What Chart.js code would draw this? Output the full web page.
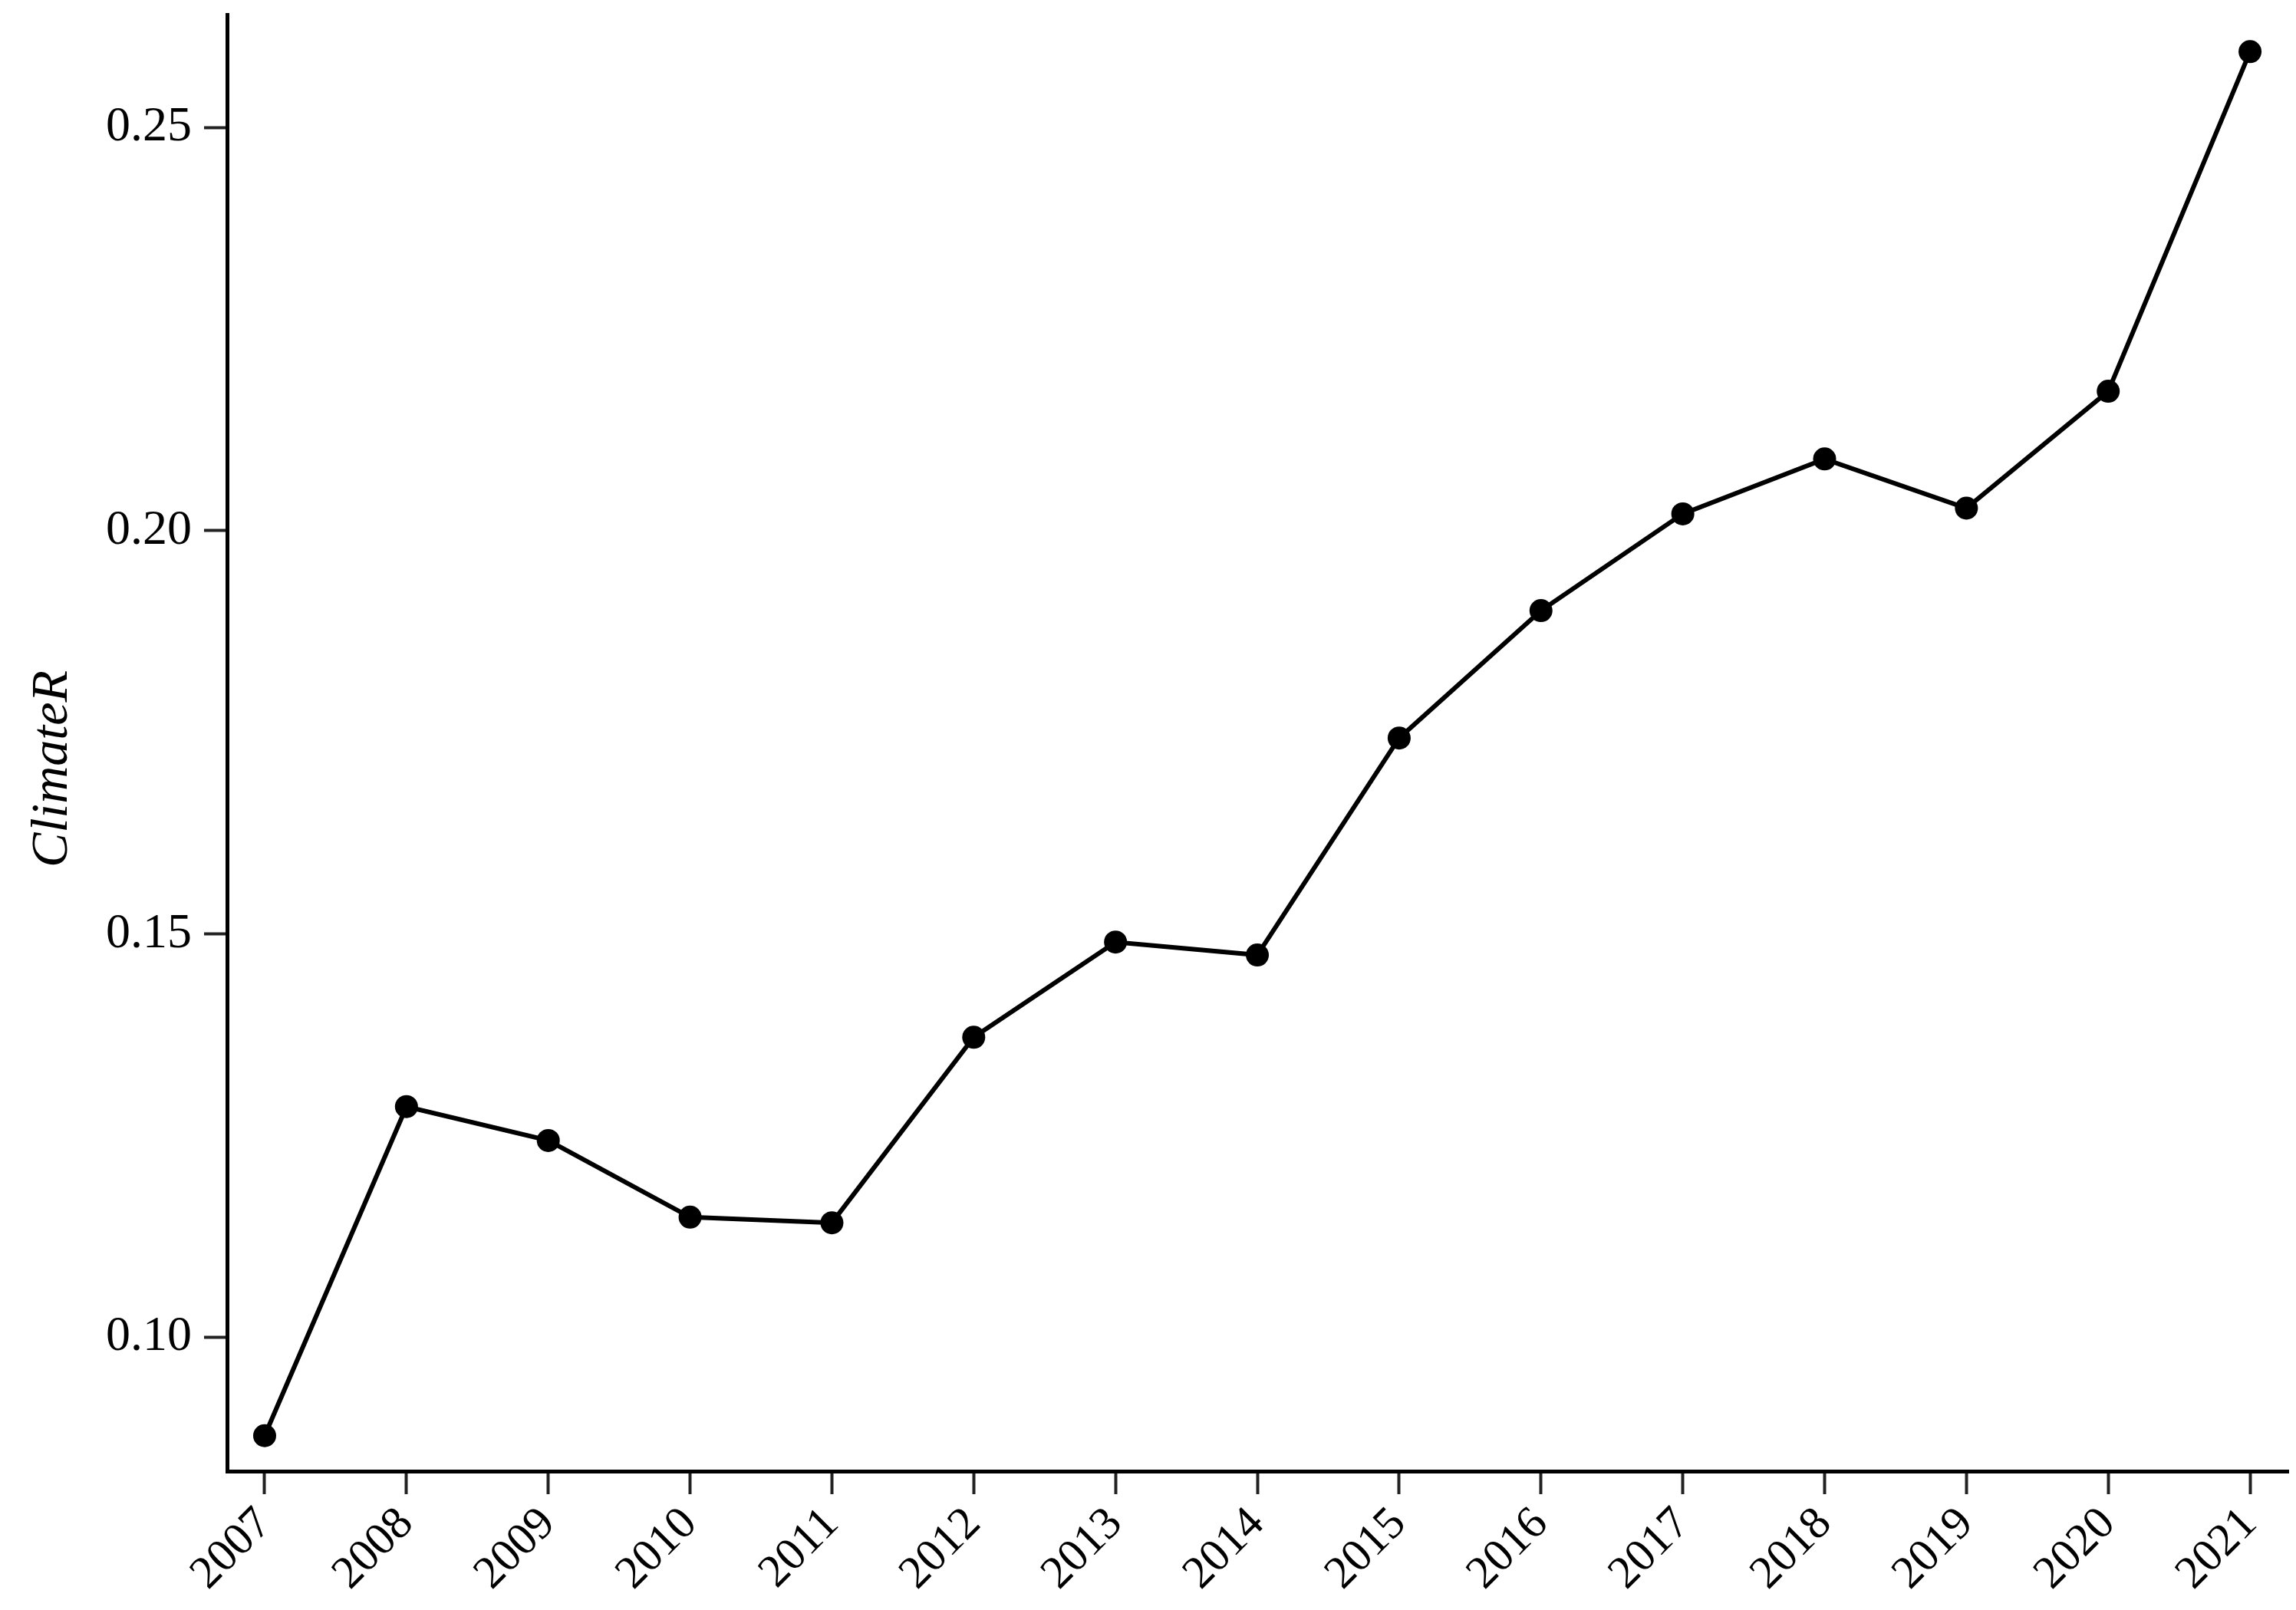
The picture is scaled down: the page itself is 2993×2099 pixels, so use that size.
<!DOCTYPE html>
<html>
<head>
<meta charset="utf-8">
<script src="https://cdn.jsdelivr.net/npm/chart.js@4/dist/chart.umd.min.js"></script>
<style>
  html, body { margin: 0; padding: 0; background: #fff; }
  #wrap { width: 2993px; height: 2099px; position: relative; }
</style>
</head>
<body>
<div id="wrap"><canvas id="chart"></canvas></div>
<script>
// --- DATA ---
const years = [2007, 2008, 2009, 2010, 2011, 2012, 2013, 2014, 2015, 2016, 2017, 2018, 2019, 2020, 2021];
const climateR = [0.0878, 0.1286, 0.1244, 0.1149, 0.1142, 0.1372, 0.1490, 0.1474, 0.1743, 0.1901, 0.2021, 0.2089, 0.2028, 0.2173, 0.2594];
const yTicks = [0.10, 0.15, 0.20, 0.25];

const FONT = '"Liberation Serif", "DejaVu Serif", serif';
const INK = '#000';

const points = years.map((y, i) => ({ x: y, y: climateR[i] }));

new Chart(document.getElementById('chart'), {
  type: 'line',
  data: {
    datasets: [{
      data: points,
      borderColor: INK,
      borderWidth: 6,
      tension: 0,
      pointRadius: 15,
      pointBackgroundColor: INK,
      pointBorderWidth: 0
    }]
  },
  options: {
    responsive: true,
    maintainAspectRatio: false,
    devicePixelRatio: 1,
    animation: false,
    layout: { autoPadding: false, padding: { top: 19, right: 10, bottom: 0, left: 0 } },
    plugins: { legend: { display: false }, tooltip: { enabled: false } },
    scales: {
      x: {
        type: 'linear',
        min: 2006.735,
        max: 2021.27,
        afterBuildTicks: s => { s.ticks = years.map(v => ({ value: v })); },
        afterFit: s => { s.height = 181; s.paddingLeft = 0; s.paddingRight = 0; },
        grid: { drawOnChartArea: false, drawTicks: true, tickLength: 30, tickWidth: 4, tickColor: '#222' },
        border: { display: true, color: INK, width: 5 },
        ticks: {
          autoSkip: false,
          maxRotation: 45,
          minRotation: 45,
          padding: 4,
          color: INK,
          font: { family: FONT, size: 60 },
          callback: v => String(v)
        }
      },
      y: {
        min: 0.0834,
        max: 0.264,
        afterBuildTicks: s => { s.ticks = yTicks.map(v => ({ value: v })); },
        afterFit: s => { s.width = 296; s.paddingTop = 0; s.paddingBottom = 0; },
        grid: { drawOnChartArea: false, drawTicks: true, tickLength: 30, tickWidth: 4, tickColor: '#222' },
        border: { display: true, color: INK, width: 5 },
        ticks: {
          padding: 16,
          color: INK,
          font: { family: FONT, size: 64 },
          callback: v => v.toFixed(2)
        },
        title: {
          display: true,
          // trailing spaces nudge the label a little below the axis centre, as in the original
          text: 'ClimateR\u00A0\u00A0\u00A0\u00A0',
          color: INK,
          padding: { top: 28, bottom: 0 },
          font: { family: FONT, size: 68, style: 'italic' }
        }
      }
    }
  }
});
</script>
</body>
</html>
